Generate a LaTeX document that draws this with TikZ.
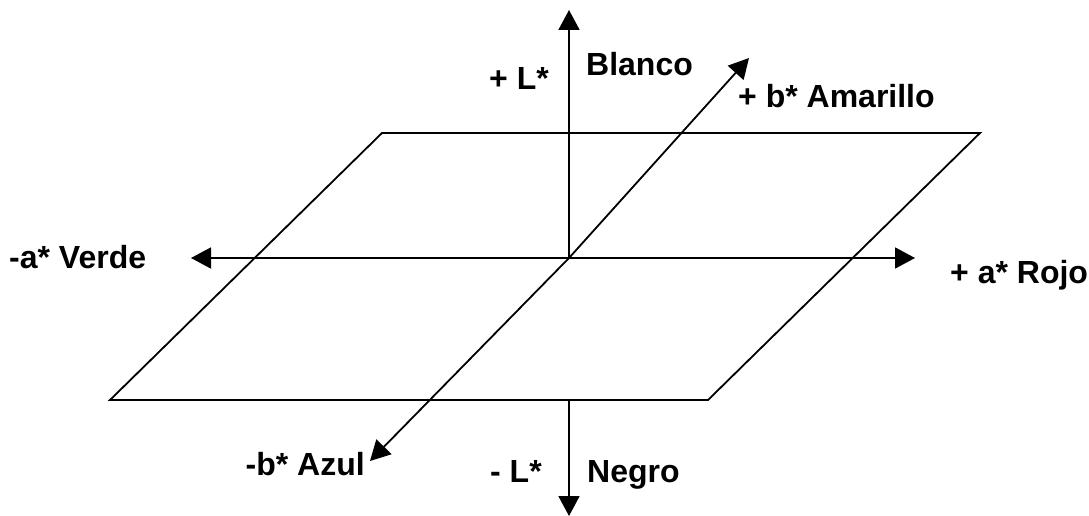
\documentclass[tikz,border=0pt]{standalone}
\usepackage{fontspec}
\setmainfont{Liberation Sans}
\usetikzlibrary{arrows.meta}
\begin{document}
\begin{tikzpicture}[x=1pt,y=-1pt,
  axis/.style={line width=1.8pt,-{Triangle[length=20pt,width=21pt]}},
  edge/.style={line width=1.8pt},
  lbl/.style={inner sep=0pt,font=\fontsize{32}{38}\selectfont\bfseries}]
\useasboundingbox (0,0) rectangle (1089,516);
% horizontal plane
\coordinate (p1) at (382,133);
\coordinate (p2) at (980,133);
\coordinate (p3) at (708,400);
\coordinate (p4) at (110,400);
\draw[edge,line join=miter] (p1) -- (p2) -- (p3) -- (p4) -- cycle;
% axis ends
\coordinate (O) at (569,258);
\coordinate (Ltop) at (569,10);
\coordinate (Lbase) at (569,400);
\coordinate (Lbot) at (569,516);
\coordinate (aneg) at (191,258);
\coordinate (apos) at (915,258);
\coordinate (bpos) at (749,58);
\coordinate (bneg) at (370,461);
\draw[axis] (O) -- (Ltop);
\draw[axis] (Lbase) -- (Lbot);
\draw[axis] (O) -- (aneg);
\draw[axis] (O) -- (apos);
\draw[axis] (O) -- (bpos);
\draw[axis] (O) -- (bneg);
% labels
\node[lbl,anchor=base west] (tL) at (489,90) {+ L*};
\node[lbl,anchor=base west] (tBl) at (586,76) {Blanco};
\node[lbl,anchor=base west] (tb) at (738,108) {+ b* Amarillo};
\node[lbl,anchor=base west] (ta) at (9,268) {-a* Verde};
\node[lbl,anchor=base west] (tR) at (950,283) {+ a* Rojo};
\node[lbl,anchor=base east] (tAz) at (365,475) {-b* Azul};
\node[lbl,anchor=base west] (tmL) at (490,482) {- L*};
\node[lbl,anchor=base west] (tN) at (587,482) {Negro};
\end{tikzpicture}
\end{document}
